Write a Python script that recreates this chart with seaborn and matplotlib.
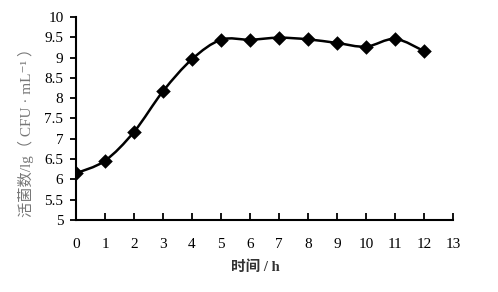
import numpy as np
import pandas as pd
import matplotlib
matplotlib.use("Agg")
import matplotlib.pyplot as plt
import seaborn as sns
from matplotlib.path import Path
from matplotlib.patches import PathPatch

hours = [0, 1, 2, 3, 4, 5, 6, 7, 8, 9, 10, 11, 12]
log_cfu = [6.15, 6.46, 7.17, 8.17, 8.96, 9.44, 9.44, 9.49, 9.45, 9.36, 9.27, 9.46, 9.16]
x_ticks = list(range(0, 14))
y_ticks = [5, 5.5, 6, 6.5, 7, 7.5, 8, 8.5, 9, 9.5, 10]
y_tick_labels = ["5", "5.5", "6", "6.5", "7", "7.5", "8", "8.5", "9", "9.5", "10"]
xlabel = "时间 / h"
ylabel = "活菌数/lg（ CFU · mL⁻¹ ）"

sns.set_theme(style="ticks")
plt.rcParams['font.family'] = ['Liberation Serif', 'Noto Sans CJK SC', 'DejaVu Sans']

fig = plt.figure(figsize=(4.98, 2.92), dpi=100)
ax = fig.add_axes([0.1526, 0.2466, 0.7570, 0.6952])

df = pd.DataFrame({"h": hours, "v": log_cfu})

# smooth curve (Excel-like Bezier smoothing) through the data points
pts = np.column_stack([df["h"].to_numpy(float), df["v"].to_numpy(float)])
verts = [tuple(pts[0])]
codes = [Path.MOVETO]
n = len(pts)
for i in range(n - 1):
    p0 = pts[i - 1] if i > 0 else pts[i]
    p1 = pts[i]
    p2 = pts[i + 1]
    p3 = pts[i + 2] if i + 2 < n else pts[i + 1]
    c1 = p1 + (p2 - p0) / 6.0
    c2 = p2 - (p3 - p1) / 6.0
    verts += [tuple(c1), tuple(c2), tuple(p2)]
    codes += [Path.CURVE4, Path.CURVE4, Path.CURVE4]
ax.add_patch(PathPatch(Path(verts, codes), facecolor="none", edgecolor="black", lw=1.8, zorder=2))

sns.scatterplot(data=df, x="h", y="v", ax=ax, marker="D", s=55, color="black",
                edgecolor="black", linewidth=0, zorder=3, legend=False)

ax.set_xlim(0, 13)
ax.set_ylim(5, 10)
ax.set_xticks(x_ticks)
ax.set_yticks(y_ticks)
ax.set_yticklabels(y_tick_labels)
for s in ["top", "right"]:
    ax.spines[s].set_visible(False)
for s in ["left", "bottom"]:
    ax.spines[s].set_linewidth(1.5)
    ax.spines[s].set_color("black")
ax.tick_params(axis="x", direction="in", length=5, width=1.3, pad=13, labelsize=11, colors="black")
ax.tick_params(axis="y", direction="out", length=4, width=1.3, pad=5, labelsize=11, colors="black")

ax.set_xlabel(xlabel, fontsize=10.5, fontweight="bold", color="#333333")
ax.xaxis.set_label_coords(0.475, -0.20)
ax.set_ylabel(ylabel, fontsize=11, color="#777777")
ax.yaxis.set_label_coords(-0.112, 0.45)

fig.savefig("out.png", dpi=100)
